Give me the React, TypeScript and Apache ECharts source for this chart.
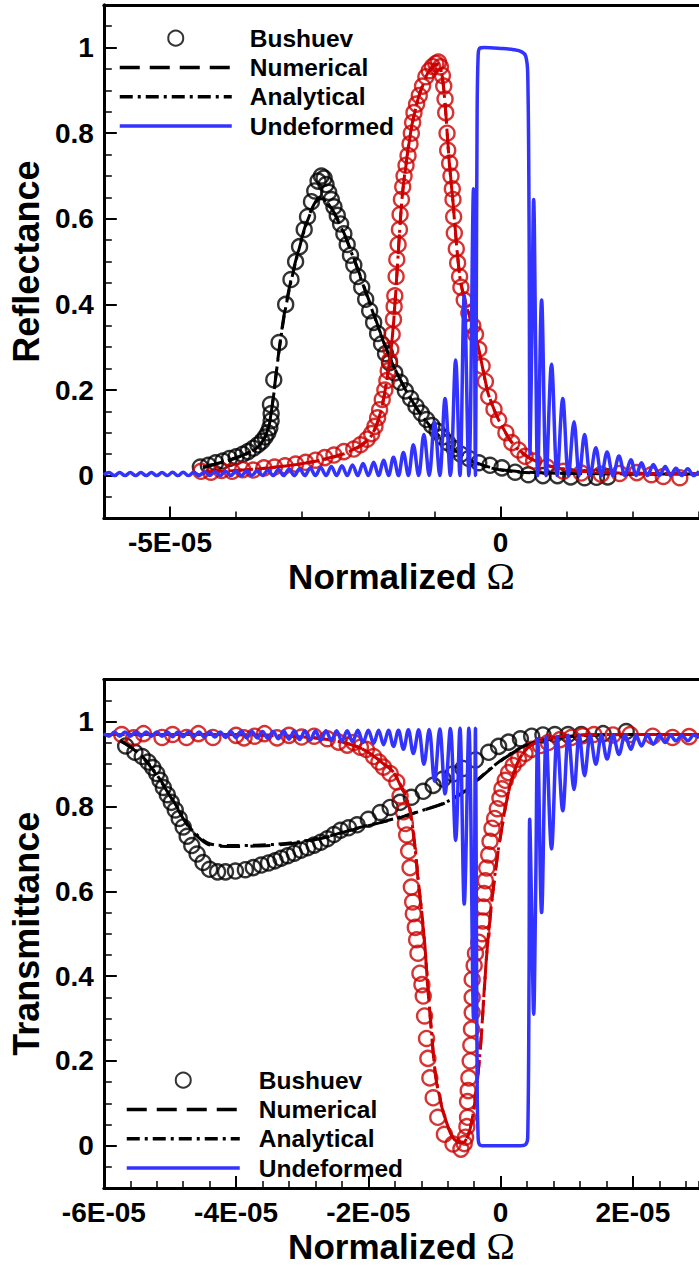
import React, { useEffect, useRef } from "react";
import * as echarts from "echarts";

type Pt = [number, number];

// Normalized Ω is stored in units of 1E-05.

// ---------- Reflectance panel ----------
const reflBushuevBlack: Pt[] = [
  [-4.54, 0.02], [-4.42, 0.024], [-4.31, 0.03], [-4.2, 0.034], [-4.1, 0.04], [-4.0, 0.044], [-3.9, 0.05],
  [-3.82, 0.056], [-3.74, 0.064], [-3.67, 0.072], [-3.61, 0.08], [-3.56, 0.09], [-3.52, 0.1], [-3.49, 0.112],
  [-3.47, 0.128], [-3.47, 0.145], [-3.48, 0.166], [-3.43, 0.224], [-3.35, 0.311], [-3.25, 0.4], [-3.17, 0.458],
  [-3.1, 0.5], [-3.04, 0.535], [-2.97, 0.575], [-2.92, 0.605], [-2.86, 0.64], [-2.81, 0.665], [-2.76, 0.688],
  [-2.71, 0.7], [-2.67, 0.695], [-2.64, 0.68], [-2.6, 0.662], [-2.56, 0.645], [-2.52, 0.628], [-2.47, 0.608],
  [-2.42, 0.588], [-2.37, 0.565], [-2.32, 0.54], [-2.27, 0.515], [-2.22, 0.492], [-2.16, 0.465], [-2.1, 0.44],
  [-2.04, 0.412], [-1.98, 0.385], [-1.92, 0.358], [-1.86, 0.332], [-1.8, 0.308], [-1.74, 0.285], [-1.68, 0.264],
  [-1.6, 0.24], [-1.52, 0.218], [-1.44, 0.198], [-1.36, 0.18], [-1.28, 0.162], [-1.2, 0.146], [-1.12, 0.131],
  [-1.04, 0.117], [-0.96, 0.104], [-0.88, 0.09], [-0.8, 0.077], [-0.7, 0.063], [-0.6, 0.05], [-0.48, 0.04],
  [-0.33, 0.03], [-0.16, 0.024], [0.02, 0.018], [0.22, 0.008], [0.42, 0.002], [0.64, 0.0], [0.86, 0.0],
  [1.06, -0.003], [1.27, -0.005], [1.45, -0.004], [1.62, -0.003],
];

const reflNumericalBlack: Pt[] = [
  [-4.5, 0.02], [-4.2, 0.032], [-3.9, 0.048], [-3.7, 0.064], [-3.58, 0.085], [-3.5, 0.12], [-3.44, 0.18],
  [-3.37, 0.27], [-3.28, 0.37], [-3.18, 0.45], [-3.06, 0.525], [-2.95, 0.585], [-2.85, 0.625], [-2.76, 0.648],
  [-2.7, 0.65], [-2.62, 0.638], [-2.5, 0.61], [-2.35, 0.56], [-2.2, 0.5], [-2.05, 0.435], [-1.9, 0.37],
  [-1.75, 0.305], [-1.6, 0.25], [-1.45, 0.205], [-1.3, 0.165], [-1.15, 0.132], [-1.0, 0.104], [-0.85, 0.08],
  [-0.7, 0.06], [-0.55, 0.044], [-0.4, 0.032], [-0.2, 0.021], [0.0, 0.014], [0.3, 0.009], [0.7, 0.006],
  [1.2, 0.005], [2.0, 0.004], [3.0, 0.004],
];

const reflAnalyticalBlack: Pt[] = [
  [-4.5, 0.019], [-4.2, 0.031], [-3.9, 0.047], [-3.7, 0.063], [-3.58, 0.084], [-3.5, 0.118], [-3.44, 0.178],
  [-3.37, 0.268], [-3.28, 0.366], [-3.18, 0.446], [-3.06, 0.522], [-2.95, 0.582], [-2.85, 0.622], [-2.76, 0.645],
  [-2.7, 0.647], [-2.62, 0.636], [-2.5, 0.608], [-2.35, 0.558], [-2.2, 0.498], [-2.05, 0.433], [-1.9, 0.368],
  [-1.75, 0.304], [-1.6, 0.249], [-1.45, 0.204], [-1.3, 0.164], [-1.15, 0.131], [-1.0, 0.103], [-0.85, 0.079],
  [-0.7, 0.059], [-0.55, 0.043], [-0.4, 0.031], [-0.2, 0.02], [0.0, 0.013], [0.3, 0.008], [0.7, 0.006],
  [1.2, 0.005], [2.0, 0.004], [3.0, 0.004],
];

const reflBushuevRed: Pt[] = [
  [-4.53, 0.01], [-4.38, 0.008], [-4.22, 0.012], [-4.06, 0.01], [-3.9, 0.014], [-3.74, 0.013], [-3.58, 0.018],
  [-3.42, 0.02], [-3.26, 0.023], [-3.1, 0.027], [-2.95, 0.031], [-2.8, 0.036], [-2.66, 0.042], [-2.52, 0.048],
  [-2.37, 0.056], [-2.22, 0.062], [-2.12, 0.072], [-2.02, 0.085], [-1.95, 0.098], [-1.9, 0.115], [-1.86, 0.135],
  [-1.83, 0.154], [-1.79, 0.178], [-1.75, 0.2], [-1.72, 0.222], [-1.7, 0.245], [-1.68, 0.268], [-1.66, 0.295],
  [-1.64, 0.33], [-1.62, 0.365], [-1.61, 0.395], [-1.6, 0.42], [-1.58, 0.465], [-1.57, 0.505], [-1.55, 0.54],
  [-1.53, 0.575], [-1.52, 0.61], [-1.5, 0.645], [-1.48, 0.675], [-1.46, 0.7], [-1.43, 0.725], [-1.4, 0.748],
  [-1.37, 0.775], [-1.35, 0.8], [-1.33, 0.825], [-1.31, 0.848], [-1.27, 0.868], [-1.23, 0.888], [-1.18, 0.91],
  [-1.13, 0.932], [-1.08, 0.946], [-1.03, 0.956], [-0.98, 0.963], [-0.94, 0.966], [-0.91, 0.955], [-0.88, 0.935],
  [-0.86, 0.91], [-0.84, 0.88], [-0.83, 0.848], [-0.81, 0.8], [-0.8, 0.76], [-0.77, 0.73], [-0.75, 0.7],
  [-0.73, 0.67], [-0.72, 0.645], [-0.71, 0.605], [-0.7, 0.567], [-0.67, 0.53], [-0.65, 0.497], [-0.62, 0.465],
  [-0.6, 0.44], [-0.55, 0.41], [-0.48, 0.38], [-0.42, 0.35], [-0.38, 0.33], [-0.33, 0.295], [-0.28, 0.256],
  [-0.23, 0.22], [-0.18, 0.185], [-0.1, 0.155], [-0.03, 0.13], [0.08, 0.1], [0.17, 0.077], [0.27, 0.06],
  [0.37, 0.045], [0.5, 0.034], [0.7, 0.02], [0.95, 0.01], [1.22, 0.006], [1.52, 0.003], [1.8, 0.005],
  [2.06, 0.007], [2.28, 0.002], [2.46, -0.002], [2.71, -0.005],
];

const reflNumericalRed: Pt[] = [
  [-4.5, 0.008], [-4.0, 0.012], [-3.5, 0.018], [-3.0, 0.028], [-2.6, 0.041], [-2.3, 0.056], [-2.1, 0.072],
  [-1.95, 0.095], [-1.85, 0.13], [-1.77, 0.18], [-1.7, 0.245], [-1.64, 0.32], [-1.59, 0.42], [-1.54, 0.54],
  [-1.49, 0.65], [-1.42, 0.74], [-1.34, 0.82], [-1.24, 0.885], [-1.12, 0.935], [-1.02, 0.958], [-0.94, 0.962],
  [-0.88, 0.93], [-0.83, 0.85], [-0.78, 0.74], [-0.72, 0.64], [-0.66, 0.53], [-0.6, 0.45], [-0.5, 0.39],
  [-0.4, 0.34], [-0.3, 0.275], [-0.2, 0.2], [-0.1, 0.155], [0.0, 0.122], [0.15, 0.082], [0.3, 0.057],
  [0.5, 0.036], [0.8, 0.02], [1.2, 0.01], [1.8, 0.006], [3.0, 0.004],
];

const reflAnalyticalRed: Pt[] = [
  [-4.5, 0.008], [-4.0, 0.012], [-3.5, 0.018], [-3.0, 0.028], [-2.6, 0.04], [-2.3, 0.055], [-2.1, 0.071],
  [-1.95, 0.094], [-1.85, 0.128], [-1.77, 0.178], [-1.7, 0.243], [-1.64, 0.318], [-1.59, 0.418], [-1.54, 0.538],
  [-1.49, 0.648], [-1.42, 0.738], [-1.34, 0.818], [-1.24, 0.883], [-1.12, 0.933], [-1.02, 0.956], [-0.94, 0.96],
  [-0.88, 0.928], [-0.83, 0.848], [-0.78, 0.738], [-0.72, 0.638], [-0.66, 0.528], [-0.6, 0.448], [-0.5, 0.388],
  [-0.4, 0.338], [-0.3, 0.273], [-0.2, 0.198], [-0.1, 0.154], [0.0, 0.121], [0.15, 0.081], [0.3, 0.056],
  [0.5, 0.035], [0.8, 0.02], [1.2, 0.01], [1.8, 0.006], [3.0, 0.004],
];

const reflUndeformed: Pt[] = [
  [-6.0, 0.002], [-5.92, 0.007], [-5.84, 0.0], [-5.76, 0.007], [-5.68, 0.0], [-5.6, 0.007], [-5.52, 0.0],
  [-5.44, 0.007], [-5.36, 0.0], [-5.28, 0.007], [-5.2, 0.0], [-5.12, 0.007], [-5.04, 0.0], [-4.96, 0.008],
  [-4.88, 0.0], [-4.8, 0.008], [-4.72, 0.0], [-4.64, 0.008], [-4.56, 0.0], [-4.48, 0.009], [-4.4, 0.0],
  [-4.32, 0.009], [-4.24, 0.0], [-4.16, 0.01], [-4.08, 0.0], [-4.0, 0.01], [-3.92, 0.0], [-3.84, 0.011],
  [-3.76, 0.0], [-3.68, 0.012], [-3.6, 0.0], [-3.52, 0.013], [-3.44, 0.0], [-3.36, 0.014], [-3.28, 0.0],
  [-3.2, 0.015], [-3.12, 0.0], [-3.04, 0.016], [-2.96, 0.0], [-2.88, 0.018], [-2.8, 0.0], [-2.72, 0.019],
  [-2.64, 0.0], [-2.56, 0.021], [-2.48, 0.0], [-2.4, 0.023], [-2.32, 0.0], [-2.24, 0.025], [-2.16, 0.0],
  [-2.08, 0.028], [-2.0, 0.0], [-1.92, 0.031], [-1.845, 0.0], [-1.77, 0.036], [-1.695, 0.0], [-1.62, 0.043],
  [-1.545, 0.0], [-1.47, 0.054], [-1.395, 0.0], [-1.32, 0.072], [-1.24, 0.0], [-1.16, 0.096], [-1.08, 0.0],
  [-1.0, 0.126], [-0.92, 0.0], [-0.84, 0.18], [-0.76, 0.0], [-0.68, 0.27], [-0.615, 0.0], [-0.55, 0.42],
  [-0.48, 0.0], [-0.41, 0.67], [-0.38, 0.0], [-0.37, 0.3], [-0.355, 0.85], [-0.34, 0.98], [-0.32, 0.998],
  [-0.25, 1.0], [0.0, 0.998], [0.2, 0.995], [0.32, 0.99], [0.38, 0.98], [0.41, 0.94], [0.43, 0.6],
  [0.445, 0.05], [0.47, 0.3], [0.5, 0.645], [0.53, 0.3], [0.56, 0.0], [0.62, 0.41], [0.69, 0.0],
  [0.77, 0.26], [0.855, 0.0], [0.94, 0.18], [1.025, 0.0], [1.11, 0.126], [1.19, 0.0], [1.27, 0.096],
  [1.355, 0.0], [1.44, 0.065], [1.525, 0.0], [1.61, 0.055], [1.7, 0.0], [1.79, 0.046], [1.88, 0.0],
  [1.97, 0.037], [2.05, 0.0], [2.13, 0.03], [2.22, 0.0], [2.31, 0.026], [2.4, 0.0], [2.49, 0.021],
  [2.57, 0.0], [2.65, 0.017], [2.74, 0.0], [2.83, 0.016], [2.92, 0.0], [3.0, 0.01],
];

// ---------- Transmittance panel ----------
const transBushuevBlack: Pt[] = [
  [-5.67, 0.943], [-5.53, 0.928], [-5.42, 0.918], [-5.33, 0.905], [-5.26, 0.892], [-5.2, 0.878], [-5.15, 0.862],
  [-5.1, 0.845], [-5.04, 0.828], [-4.98, 0.81], [-4.92, 0.792], [-4.86, 0.772], [-4.8, 0.752], [-4.74, 0.73],
  [-4.67, 0.708], [-4.59, 0.688], [-4.5, 0.668], [-4.4, 0.652], [-4.28, 0.646], [-4.16, 0.646], [-4.01, 0.648],
  [-3.86, 0.651], [-3.74, 0.656], [-3.62, 0.662], [-3.51, 0.667], [-3.41, 0.672], [-3.32, 0.678], [-3.22, 0.684],
  [-3.12, 0.69], [-3.02, 0.697], [-2.92, 0.703], [-2.82, 0.709], [-2.72, 0.716], [-2.62, 0.724], [-2.52, 0.734],
  [-2.42, 0.744], [-2.3, 0.75], [-2.17, 0.757], [-2.0, 0.77], [-1.82, 0.786], [-1.67, 0.798], [-1.52, 0.81],
  [-1.35, 0.822], [-1.17, 0.836], [-1.02, 0.85], [-0.87, 0.865], [-0.72, 0.877], [-0.57, 0.89], [-0.38, 0.91],
  [-0.18, 0.928], [-0.03, 0.942], [0.12, 0.952], [0.3, 0.96], [0.47, 0.966], [0.64, 0.969], [0.82, 0.97],
  [1.02, 0.97], [1.22, 0.97], [1.55, 0.972], [1.9, 0.977],
];

const transNumericalBlack: Pt[] = [
  [-5.75, 0.955], [-5.55, 0.935], [-5.35, 0.905], [-5.15, 0.862], [-5.0, 0.825], [-4.85, 0.785], [-4.7, 0.748],
  [-4.56, 0.726], [-4.44, 0.712], [-4.3, 0.707], [-4.0, 0.706], [-3.7, 0.707], [-3.4, 0.709], [-3.0, 0.716],
  [-2.57, 0.73], [-2.32, 0.742], [-2.0, 0.755], [-1.57, 0.772], [-1.2, 0.79], [-0.82, 0.81], [-0.55, 0.835],
  [-0.33, 0.865], [-0.12, 0.893], [0.07, 0.915], [0.27, 0.935], [0.47, 0.949], [0.7, 0.958], [0.92, 0.964],
  [1.3, 0.968], [2.0, 0.97], [3.0, 0.97],
];

const transAnalyticalBlack: Pt[] = [
  [-5.75, 0.956], [-5.55, 0.936], [-5.35, 0.907], [-5.15, 0.864], [-5.0, 0.827], [-4.85, 0.788], [-4.7, 0.751],
  [-4.56, 0.729], [-4.44, 0.715], [-4.3, 0.709], [-4.0, 0.708], [-3.7, 0.709], [-3.4, 0.711], [-3.0, 0.718],
  [-2.57, 0.731], [-2.32, 0.743], [-2.0, 0.756], [-1.57, 0.773], [-1.2, 0.79], [-0.82, 0.811], [-0.55, 0.836],
  [-0.33, 0.866], [-0.12, 0.894], [0.07, 0.916], [0.27, 0.936], [0.47, 0.95], [0.7, 0.958], [0.92, 0.964],
  [1.3, 0.968], [2.0, 0.97], [3.0, 0.97],
];

const transBushuevRed: Pt[] = [
  [-5.73, 0.97], [-5.55, 0.962], [-5.4, 0.972], [-5.12, 0.963], [-4.96, 0.97], [-4.75, 0.963], [-4.57, 0.972],
  [-4.35, 0.963], [-4.0, 0.968], [-3.88, 0.962], [-3.72, 0.966], [-3.57, 0.972], [-3.38, 0.962], [-3.2, 0.968],
  [-3.01, 0.964], [-2.82, 0.966], [-2.62, 0.96], [-2.45, 0.952], [-2.32, 0.945], [-2.22, 0.951], [-2.12, 0.94],
  [-2.03, 0.935], [-1.92, 0.918], [-1.84, 0.905], [-1.77, 0.893], [-1.67, 0.878], [-1.57, 0.858], [-1.52, 0.825],
  [-1.47, 0.788], [-1.44, 0.76], [-1.42, 0.733], [-1.39, 0.695], [-1.37, 0.656], [-1.35, 0.61], [-1.33, 0.575],
  [-1.32, 0.547], [-1.29, 0.515], [-1.27, 0.486], [-1.25, 0.454], [-1.22, 0.407], [-1.19, 0.38], [-1.17, 0.353],
  [-1.15, 0.306], [-1.12, 0.253], [-1.1, 0.206], [-1.07, 0.16], [-1.02, 0.113], [-0.95, 0.067], [-0.85, 0.027],
  [-0.72, 0.004], [-0.6, -0.008], [-0.55, 0.005], [-0.53, 0.02], [-0.51, 0.045], [-0.5, 0.067], [-0.5, 0.104],
  [-0.49, 0.13], [-0.48, 0.16], [-0.46, 0.2], [-0.45, 0.237], [-0.44, 0.275], [-0.43, 0.314], [-0.43, 0.35],
  [-0.43, 0.392], [-0.4, 0.425], [-0.38, 0.454], [-0.33, 0.48], [-0.28, 0.5], [-0.27, 0.53], [-0.26, 0.563],
  [-0.25, 0.595], [-0.23, 0.625], [-0.21, 0.655], [-0.18, 0.686], [-0.16, 0.718], [-0.13, 0.749], [-0.09, 0.772],
  [-0.05, 0.795], [-0.01, 0.82], [0.02, 0.842], [0.07, 0.862], [0.12, 0.88], [0.19, 0.897], [0.27, 0.912],
  [0.37, 0.925], [0.47, 0.935], [0.6, 0.944], [0.72, 0.951], [0.9, 0.958], [1.07, 0.963], [1.24, 0.967],
  [1.41, 0.97], [1.7, 0.969], [1.96, 0.97], [2.3, 0.966], [2.6, 0.963], [2.85, 0.965],
];

const transNumericalRed: Pt[] = [
  [-6.0, 0.97], [-4.5, 0.97], [-3.5, 0.968], [-2.8, 0.962], [-2.4, 0.952], [-2.15, 0.94], [-1.95, 0.922],
  [-1.78, 0.902], [-1.62, 0.88], [-1.5, 0.845], [-1.42, 0.815], [-1.37, 0.79], [-1.3, 0.71], [-1.25, 0.63],
  [-1.19, 0.545], [-1.14, 0.46], [-1.11, 0.39], [-1.05, 0.276], [-0.98, 0.16], [-0.87, 0.08], [-0.75, 0.027],
  [-0.65, 0.008], [-0.57, 0.006], [-0.49, 0.025], [-0.42, 0.07], [-0.36, 0.14], [-0.3, 0.24], [-0.25, 0.36],
  [-0.2, 0.47], [-0.13, 0.58], [-0.05, 0.68], [0.02, 0.75], [0.1, 0.82], [0.18, 0.87], [0.28, 0.91],
  [0.4, 0.937], [0.55, 0.952], [0.8, 0.963], [1.2, 0.969], [2.0, 0.97], [3.0, 0.97],
];

const transAnalyticalRed: Pt[] = [
  [-6.0, 0.97], [-4.5, 0.97], [-3.5, 0.968], [-2.8, 0.962], [-2.4, 0.952], [-2.15, 0.94], [-1.95, 0.923],
  [-1.78, 0.903], [-1.62, 0.881], [-1.5, 0.847], [-1.42, 0.817], [-1.37, 0.792], [-1.3, 0.713], [-1.25, 0.633],
  [-1.19, 0.548], [-1.14, 0.463], [-1.11, 0.393], [-1.05, 0.279], [-0.98, 0.163], [-0.87, 0.082], [-0.75, 0.028],
  [-0.65, 0.009], [-0.57, 0.007], [-0.49, 0.026], [-0.42, 0.072], [-0.36, 0.142], [-0.3, 0.243], [-0.25, 0.362],
  [-0.2, 0.472], [-0.13, 0.582], [-0.05, 0.682], [0.02, 0.752], [0.1, 0.821], [0.18, 0.871], [0.28, 0.911],
  [0.4, 0.937], [0.55, 0.952], [0.8, 0.963], [1.2, 0.969], [2.0, 0.97], [3.0, 0.97],
];

const transUndeformed: Pt[] = [
  [-6.0, 0.972], [-5.92, 0.966], [-5.84, 0.976], [-5.76, 0.966], [-5.68, 0.976], [-5.6, 0.966], [-5.52, 0.976],
  [-5.44, 0.966], [-5.36, 0.976], [-5.28, 0.966], [-5.2, 0.976], [-5.12, 0.966], [-5.04, 0.976], [-4.96, 0.965],
  [-4.88, 0.976], [-4.8, 0.965], [-4.72, 0.976], [-4.64, 0.965], [-4.56, 0.976], [-4.48, 0.964], [-4.4, 0.976],
  [-4.32, 0.964], [-4.24, 0.976], [-4.16, 0.963], [-4.08, 0.977], [-4.0, 0.963], [-3.92, 0.977], [-3.84, 0.962],
  [-3.76, 0.977], [-3.68, 0.962], [-3.6, 0.977], [-3.52, 0.961], [-3.44, 0.977], [-3.36, 0.96], [-3.28, 0.978],
  [-3.2, 0.959], [-3.12, 0.978], [-3.04, 0.958], [-2.96, 0.978], [-2.88, 0.957], [-2.8, 0.978], [-2.72, 0.956],
  [-2.64, 0.979], [-2.56, 0.955], [-2.48, 0.979], [-2.4, 0.954], [-2.32, 0.979], [-2.24, 0.953], [-2.16, 0.98],
  [-2.08, 0.951], [-2.0, 0.98], [-1.92, 0.949], [-1.845, 0.98], [-1.77, 0.946], [-1.695, 0.98], [-1.62, 0.942],
  [-1.545, 0.98], [-1.47, 0.935], [-1.395, 0.981], [-1.32, 0.925], [-1.24, 0.981], [-1.16, 0.9], [-1.08, 0.982],
  [-1.0, 0.86], [-0.92, 0.983], [-0.84, 0.83], [-0.76, 0.984], [-0.68, 0.72], [-0.615, 0.985], [-0.55, 0.57],
  [-0.48, 0.985], [-0.41, 0.3], [-0.38, 0.985], [-0.37, 0.7], [-0.355, 0.15], [-0.34, 0.02], [-0.32, 0.003],
  [-0.25, 0.0], [0.0, 0.0], [0.3, 0.0], [0.38, 0.003], [0.41, 0.02], [0.43, 0.4], [0.44, 0.77],
  [0.47, 0.55], [0.5, 0.31], [0.53, 0.6], [0.56, 0.96], [0.62, 0.55], [0.69, 0.965], [0.77, 0.7],
  [0.855, 0.965], [0.94, 0.79], [1.025, 0.968], [1.11, 0.84], [1.19, 0.968], [1.27, 0.873], [1.355, 0.968],
  [1.44, 0.9], [1.525, 0.968], [1.61, 0.912], [1.7, 0.968], [1.79, 0.923], [1.88, 0.968], [1.97, 0.935],
  [2.05, 0.968], [2.13, 0.943], [2.22, 0.968], [2.31, 0.947], [2.4, 0.968], [2.49, 0.951], [2.57, 0.968],
  [2.65, 0.955], [2.74, 0.968], [2.83, 0.955], [2.92, 0.968], [3.0, 0.962],
];

// ---------- Axis ticks and legend ----------
const yMajorTicks = [0, 0.2, 0.4, 0.6, 0.8, 1];
const xMajorTicksTop = [-5, 0];
const xMajorTicksBottom = [-6, -4, -2, 0, 2];
const legendNames = ["Bushuev", "Numerical", "Analytical", "Undeformed"];

const X_MIN = -6;
const X_MAX = 3;
const Y_MIN = -0.1;
const Y_MAX = 1.1;

const FONT = "'Liberation Sans', Arial, Helvetica, sans-serif";
const BLACK = "#000000";
const RED = "#cc0000";
const BLUE = "#3333ff";
const DASH = [20, 10];
const DASH_DOT = [13, 5, 3, 5];

const omegaLabel = (v: number) => (v === 0 ? "0" : `${v}E-05`);

function panelAxes(grid: number, xMajor: number[], xMinorStep: number, yName: string) {
  const tickFont = { fontFamily: FONT, fontSize: 28, fontWeight: "bold" as const, color: BLACK };
  const xAxes = [
    {
      type: "value", gridIndex: grid, min: X_MIN, max: X_MAX, position: "bottom",
      axisLine: { show: true, onZero: false, lineStyle: { color: BLACK, width: 3 } },
      axisTick: { show: true, inside: true, length: 12, customValues: xMajor, lineStyle: { color: BLACK, width: 2 } },
      axisLabel: { show: true, customValues: xMajor, formatter: omegaLabel, margin: 10, ...tickFont },
      splitLine: { show: false },
      name: "{a|Normalized} {b|Ω}", nameLocation: "middle", nameGap: 37,
      nameTextStyle: {
        fontFamily: FONT, fontSize: 35, fontWeight: "bold", color: BLACK,
        rich: {
          a: { fontFamily: FONT, fontSize: 35, fontWeight: "bold", color: BLACK },
          b: { fontFamily: "'Liberation Serif', 'Times New Roman', serif", fontSize: 38, fontWeight: "normal", color: BLACK },
        },
      },
    },
    {
      type: "value", gridIndex: grid, min: X_MIN, max: X_MAX, interval: xMinorStep, position: "bottom",
      axisLine: { show: false, onZero: false },
      axisTick: { show: true, inside: true, length: 7, lineStyle: { color: BLACK, width: 1.5 } },
      axisLabel: { show: false }, splitLine: { show: false },
    },
    {
      type: "value", gridIndex: grid, min: X_MIN, max: X_MAX, position: "top",
      axisLine: { show: true, onZero: false, lineStyle: { color: BLACK, width: 3 } },
      axisTick: { show: false }, axisLabel: { show: false }, splitLine: { show: false },
    },
  ];
  const yAxes = [
    {
      type: "value", gridIndex: grid, min: Y_MIN, max: Y_MAX, position: "left",
      axisLine: { show: true, onZero: false, lineStyle: { color: BLACK, width: 3 } },
      axisTick: { show: true, inside: true, length: 13, customValues: yMajorTicks, lineStyle: { color: BLACK, width: 2 } },
      axisLabel: { show: true, customValues: yMajorTicks, margin: 10, ...tickFont },
      splitLine: { show: false },
      name: yName, nameLocation: "middle", nameGap: 58, nameRotate: 90,
      nameTextStyle: { fontFamily: FONT, fontSize: 36, fontWeight: "bold", color: BLACK },
    },
    {
      type: "value", gridIndex: grid, min: Y_MIN, max: Y_MAX, interval: 0.05, position: "left",
      axisLine: { show: false, onZero: false },
      axisTick: { show: true, inside: true, length: 8, lineStyle: { color: BLACK, width: 1.5 } },
      axisLabel: { show: false }, splitLine: { show: false },
    },
  ];
  return { xAxes, yAxes };
}

function circles(name: string, data: Pt[], color: string, xi: number, yi: number) {
  return {
    type: "scatter", name, data, xAxisIndex: xi, yAxisIndex: yi,
    symbol: "circle", symbolSize: 15,
    itemStyle: { color: "transparent", borderColor: color, borderWidth: 2.4 },
    z: 3,
  };
}

function curve(name: string, data: Pt[], color: string, dash: any, width: number, xi: number, yi: number, smooth = 0.3) {
  return {
    type: "line", name, data, xAxisIndex: xi, yAxisIndex: yi,
    symbol: "none", showSymbol: false, smooth,
    lineStyle: { color, width, type: dash },
    itemStyle: { color },
    z: 4,
  };
}

// line entries show only their stroke, the marker entry only its circle
const legendItems = legendNames.map((name, i) =>
  i === 0 ? { name } : { name, itemStyle: { opacity: 0 } }
);

function legendAt(left: number, top: number, iconWidth: number, textPad: number) {
  return {
    data: legendItems, orient: "vertical", left, top, padding: 0,
    itemWidth: iconWidth, itemHeight: 15, itemGap: 0, selectedMode: false,
    lineStyle: { width: 3.5 },
    textStyle: {
      fontFamily: FONT, fontSize: 24.5, fontWeight: "bold", color: BLACK,
      lineHeight: 29.3, padding: [0, 0, 0, textPad],
    },
  };
}

export default function App() {
  const ref = useRef<HTMLDivElement>(null);

  useEffect(() => {
    if (!ref.current) return;
    const chart = echarts.init(ref.current, undefined, { renderer: "svg" });

    const top = panelAxes(0, xMajorTicksTop, 1, "Reflectance");
    const bottom = panelAxes(1, xMajorTicksBottom, 0.4, "Transmittance");

    chart.setOption({
      animation: false,
      backgroundColor: "#ffffff",
      grid: [
        { left: 103, top: 4.8, width: 603, height: 513.6 },
        { left: 103, top: 679.4, width: 603, height: 515.3 },
      ],
      xAxis: [...top.xAxes, ...bottom.xAxes],
      yAxis: [...top.yAxes, ...bottom.yAxes],
      legend: [legendAt(118, 23.5, 112, 13), legendAt(125, 1065.5, 113, 14)],
      series: [
        // reflectance
        circles("Bushuev", reflBushuevBlack, BLACK, 0, 0),
        curve("Numerical", reflNumericalBlack, BLACK, DASH, 3, 0, 0),
        curve("Analytical", reflAnalyticalBlack, BLACK, DASH_DOT, 3, 0, 0),
        circles("Bushuev, deformed", reflBushuevRed, RED, 0, 0),
        curve("Numerical, deformed", reflNumericalRed, RED, DASH, 3, 0, 0),
        curve("Analytical, deformed", reflAnalyticalRed, RED, DASH_DOT, 3, 0, 0),
        curve("Undeformed", reflUndeformed, BLUE, "solid", 3.5, 0, 0, 0.35),
        // transmittance
        circles("Bushuev", transBushuevBlack, BLACK, 3, 2),
        curve("Numerical", transNumericalBlack, BLACK, DASH, 3, 3, 2),
        curve("Analytical", transAnalyticalBlack, BLACK, DASH_DOT, 3, 3, 2),
        circles("Bushuev, deformed", transBushuevRed, RED, 3, 2),
        curve("Numerical, deformed", transNumericalRed, RED, DASH, 3, 3, 2),
        curve("Analytical, deformed", transAnalyticalRed, RED, DASH_DOT, 3, 3, 2),
        curve("Undeformed", transUndeformed, BLUE, "solid", 3.5, 3, 2, 0.35),
      ],
    });

    return () => chart.dispose();
  }, []);

  return (
    <div
      ref={ref}
      style={{ position: "absolute", left: 0, top: 0, width: 699, height: 1266, background: "#fff" }}
    />
  );
}
